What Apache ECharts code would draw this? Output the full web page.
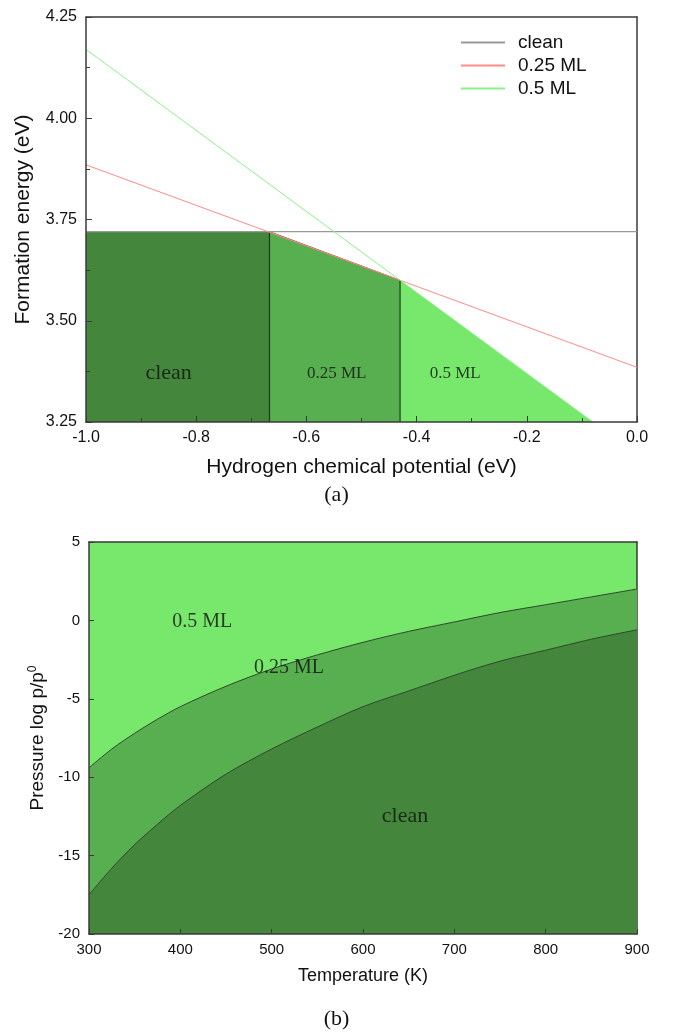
<!DOCTYPE html>
<html>
<head>
<meta charset="utf-8">
<script src="https://cdn.jsdelivr.net/npm/echarts@6/dist/echarts.min.js"></script>
<style>html,body{margin:0;padding:0;background:#fff;}#c{width:673px;height:1036px;}</style>
</head>
<body>
<div id="c"></div>
<script>
// ---------- (a) formation energy vs hydrogen chemical potential ----------
const muEnds = [-1.0, 0.0];
const cleanEnergy = [3.72, 3.72];
const ml025Energy = [3.885, 3.385];
const ml05Mu = [-1.0, -0.08];
const ml05Energy = [4.17, 3.25];
// phase regions (upper edge of each stability region)
const regionCleanMu = [-1.0, -0.667];
const regionCleanE = [3.72, 3.72];
const region025Mu = [-0.667, -0.43];
const region025E = [3.72, 3.60];
const region05Mu = [-0.43, -0.08];
const region05E = [3.60, 3.25];
const xTicksA = [-1.0, 0.0, 0.2];
const yTicksA = [3.25, 4.25, 0.25];
const labelsA = [
  {name: 'clean', mu: -0.85, e: 3.37, size: 22},
  {name: '0.25 ML', mu: -0.545, e: 3.37, size: 17},
  {name: '0.5 ML', mu: -0.33, e: 3.37, size: 17}
];

// ---------- (b) phase diagram T vs log p ----------
const temps = [300, 325, 350, 375, 400, 450, 500, 550, 600, 650, 700, 750, 800, 850, 900];
const boundary05to025 = [-9.4, -8.2, -7.2, -6.3, -5.5, -4.2, -3.1, -2.2, -1.4, -0.7, -0.1, 0.5, 1.0, 1.5, 2.0];
const boundary025toClean = [-17.5, -15.8, -14.3, -13.0, -11.8, -9.8, -8.2, -6.8, -5.5, -4.5, -3.5, -2.6, -1.9, -1.2, -0.6];
const xTicksB = [300, 900, 100];
const yTicksB = [-20, 5, 5];
const labelsB = [
  {name: '0.5 ML', t: 424, p: -0.1, size: 20},
  {name: '0.25 ML', t: 519, p: -3.0, size: 20},
  {name: 'clean', t: 646, p: -12.5, size: 22}
];

const C_LIGHT = '#77E86B', C_MID = '#58AF50', C_DARK = '#43863C';
const SANS = 'Liberation Sans, Arial, sans-serif';
const SERIF = 'Liberation Serif, Times New Roman, serif';
const AX = '#3a3a3a';

const zip = (a, b) => a.map((v, i) => [v, b[i]]);

const chart = echarts.init(document.getElementById('c'), null, {renderer: 'canvas'});

const frameAxis = (extra) => Object.assign({
  axisLine: {show: true, onZero: false, lineStyle: {color: AX, width: 1.5}},
  axisTick: {show: false}, axisLabel: {show: false}, splitLine: {show: false}
}, extra);

const option = {
  backgroundColor: '#fff',
  animation: false,
  grid: [
    {left: 86, top: 17, width: 551, height: 405, containLabel: false},
    {left: 89, top: 542, width: 548, height: 392, containLabel: false, show: true, backgroundColor: C_LIGHT, borderWidth: 0}
  ],
  legend: {
    data: ['clean', '0.25 ML', '0.5 ML'],
    orient: 'vertical', left: 456, top: 28,
    itemWidth: 44, itemHeight: 2, itemGap: 4, icon: 'rect',
    textStyle: {fontFamily: SANS, fontSize: 19, color: '#111', padding: [0, 0, 0, 8], lineHeight: 19}
  },
  xAxis: [
    {gridIndex: 0, type: 'value', min: xTicksA[0], max: xTicksA[1], interval: xTicksA[2],
      name: 'Hydrogen chemical potential (eV)', nameLocation: 'middle', nameGap: 35,
      nameTextStyle: {fontFamily: SANS, fontSize: 21, color: '#111'},
      axisLine: {onZero: false, lineStyle: {color: AX, width: 1.5}},
      axisTick: {inside: true, length: 6, lineStyle: {color: AX}},
      minorTick: {show: true, splitNumber: 2, length: 4, lineStyle: {color: AX}},
      axisLabel: {fontFamily: SANS, fontSize: 16, color: '#111', margin: 8, formatter: v => v.toFixed(1)},
      splitLine: {show: false}, z: 10},
    frameAxis({gridIndex: 0, type: 'value', min: xTicksA[0], max: xTicksA[1], position: 'top'}),
    {gridIndex: 1, type: 'value', min: xTicksB[0], max: xTicksB[1], interval: xTicksB[2],
      name: 'Temperature (K)', nameLocation: 'middle', nameGap: 33,
      nameTextStyle: {fontFamily: SANS, fontSize: 18, color: '#111'},
      axisLine: {onZero: false, lineStyle: {color: AX, width: 1.5}},
      axisTick: {inside: true, length: 5, lineStyle: {color: AX}},
      axisLabel: {fontFamily: SANS, fontSize: 15, color: '#111', margin: 8},
      splitLine: {show: false}, z: 10},
    frameAxis({gridIndex: 1, type: 'value', min: xTicksB[0], max: xTicksB[1], position: 'top'})
  ],
  yAxis: [
    {gridIndex: 0, type: 'value', min: yTicksA[0], max: yTicksA[1], interval: yTicksA[2],
      name: 'Formation energy (eV)', nameLocation: 'middle', nameGap: 52,
      nameTextStyle: {fontFamily: SANS, fontSize: 21, color: '#111'},
      axisLine: {onZero: false, lineStyle: {color: AX, width: 1.5}},
      axisTick: {inside: true, length: 6, lineStyle: {color: AX}},
      minorTick: {show: true, splitNumber: 2, length: 4, lineStyle: {color: AX}},
      axisLabel: {fontFamily: SANS, fontSize: 16, color: '#111', margin: 9, formatter: v => v.toFixed(2)},
      splitLine: {show: false}, z: 10},
    frameAxis({gridIndex: 0, type: 'value', min: yTicksA[0], max: yTicksA[1], position: 'right'}),
    {gridIndex: 1, type: 'value', min: yTicksB[0], max: yTicksB[1], interval: yTicksB[2],
      name: 'Pressure log p/p{sup|0}', nameLocation: 'middle', nameGap: 34,
      nameTextStyle: {fontFamily: SANS, fontSize: 19, color: '#111',
        rich: {sup: {fontFamily: SANS, fontSize: 12, verticalAlign: 'top', padding: [0, 0, 11, 0], color: '#111'}}},
      axisLine: {onZero: false, lineStyle: {color: AX, width: 1.5}},
      axisTick: {inside: true, length: 5, lineStyle: {color: AX}},
      axisLabel: {fontFamily: SANS, fontSize: 15, color: '#111', margin: 9},
      splitLine: {show: false}, z: 10},
    frameAxis({gridIndex: 1, type: 'value', min: yTicksB[0], max: yTicksB[1], position: 'right'})
  ],
  series: [
    // (a) stability regions
    {type: 'line', xAxisIndex: 0, yAxisIndex: 0, data: zip(regionCleanMu, regionCleanE), symbol: 'none',
      lineStyle: {width: 0}, areaStyle: {color: C_DARK, opacity: 1, origin: 'start'}, z: 1, silent: true},
    {type: 'line', xAxisIndex: 0, yAxisIndex: 0, data: zip(region025Mu, region025E), symbol: 'none',
      lineStyle: {width: 1, color: '#7a5a3a'}, areaStyle: {color: C_MID, opacity: 1, origin: 'start'}, z: 1, silent: true},
    {type: 'line', xAxisIndex: 0, yAxisIndex: 0, data: zip(region05Mu, region05E), symbol: 'none',
      lineStyle: {width: 0}, areaStyle: {color: C_LIGHT, opacity: 1, origin: 'start'}, z: 1, silent: true},
    // vertical phase boundaries
    {type: 'line', xAxisIndex: 0, yAxisIndex: 0, data: [[region025Mu[0], yTicksA[0]], [region025Mu[0], region025E[0]]],
      symbol: 'none', lineStyle: {width: 1.2, color: '#1f3a1c'}, z: 3, silent: true},
    {type: 'line', xAxisIndex: 0, yAxisIndex: 0, data: [[region05Mu[0], yTicksA[0]], [region05Mu[0], region05E[0]]],
      symbol: 'none', lineStyle: {width: 1.2, color: '#1f3a1c'}, z: 3, silent: true},
    // energy lines
    {name: 'clean', type: 'line', xAxisIndex: 0, yAxisIndex: 0, data: zip(muEnds, cleanEnergy), symbol: 'none',
      lineStyle: {width: 1.3, color: '#999999'}, itemStyle: {color: '#999999'}, z: 4},
    {name: '0.25 ML', type: 'line', xAxisIndex: 0, yAxisIndex: 0, data: zip(muEnds, ml025Energy), symbol: 'none',
      lineStyle: {width: 1, color: '#FF8A8A'}, itemStyle: {color: '#FF8A8A'}, z: 4},
    {name: '0.5 ML', type: 'line', xAxisIndex: 0, yAxisIndex: 0, data: zip(ml05Mu, ml05Energy), symbol: 'none',
      lineStyle: {width: 1, color: '#8CF08C'}, itemStyle: {color: '#8CF08C'}, z: 4},
    // (a) region labels
    {type: 'scatter', xAxisIndex: 0, yAxisIndex: 0, symbolSize: 0, z: 6, silent: true,
      data: labelsA.map(l => ({value: [l.mu, l.e], name: l.name,
        label: {show: true, position: 'inside', formatter: l.name, fontFamily: SERIF, fontSize: l.size, color: '#111'}}))},

    // (b) regions: light is the grid background
    {type: 'line', xAxisIndex: 2, yAxisIndex: 2, data: zip(temps, boundary05to025), symbol: 'none', smooth: 0.3,
      lineStyle: {width: 1, color: '#2d4a2a'}, areaStyle: {color: C_MID, opacity: 1, origin: 'start'}, z: 2, silent: true},
    {type: 'line', xAxisIndex: 2, yAxisIndex: 2, data: zip(temps, boundary025toClean), symbol: 'none', smooth: 0.3,
      lineStyle: {width: 1, color: '#2d4a2a'}, areaStyle: {color: C_DARK, opacity: 1, origin: 'start'}, z: 3, silent: true},
    {type: 'scatter', xAxisIndex: 2, yAxisIndex: 2, symbolSize: 0, z: 6, silent: true,
      data: labelsB.map(l => ({value: [l.t, l.p], name: l.name,
        label: {show: true, position: 'inside', formatter: l.name, fontFamily: SERIF, fontSize: l.size, color: '#111'}}))}
  ],
  graphic: [
    {type: 'text', left: 'center', top: 484, style: {text: '(a)', font: '22px ' + SERIF, fill: '#111'}},
    {type: 'text', left: 'center', top: 1008, style: {text: '(b)', font: '22px ' + SERIF, fill: '#111'}}
  ]
};
chart.setOption(option);
</script>
</body>
</html>
